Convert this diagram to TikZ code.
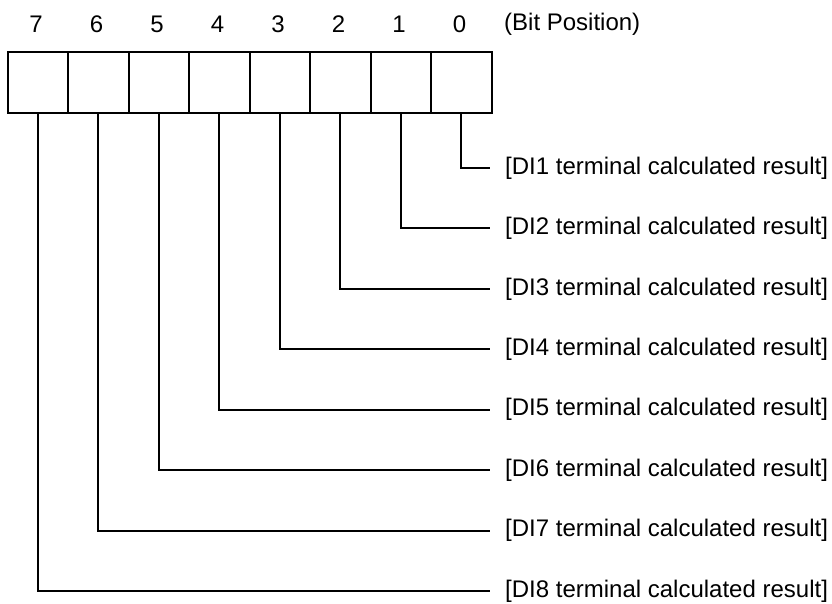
\documentclass[tikz,border=0pt]{standalone}
\usepackage{fontspec}
\setmainfont{Liberation Sans}
\begin{document}
\begin{tikzpicture}[x=1pt,y=-1pt,
  cell/.style={draw=black,line width=2pt,minimum width=60.5pt,minimum height=61pt,inner sep=0pt,anchor=north west},
  txt/.style={font=\fontsize{24}{28}\selectfont,inner sep=0pt},
  lbl/.style={txt,anchor=west,inner xsep=15pt,inner ysep=0pt},
  wire/.style={draw=black,line width=2pt}]
\useasboundingbox (0,0) rectangle (832,603);
% cells
\foreach \b [count=\i from 0] in {7,6,5,4,3,2,1,0}{
  \node[cell] (c\b) at ({6.5+60.5*\i},51) {};
  \node[txt] (n\b) at ({36+60.5*\i},24) {\b};
}
\node[txt,anchor=west] (bp) at (504,24) {(Bit Position)};
% labels and connectors
\foreach \k in {1,...,8}{
  \pgfmathtruncatemacro{\b}{\k-1}
  \node[lbl] (l\k) at (490,{168+60.43*(\k-1)}) {[DI\k\ terminal calculated result]};
  \draw[wire] (c\b.south) |- (l\k.west);
}
\end{tikzpicture}
\end{document}
